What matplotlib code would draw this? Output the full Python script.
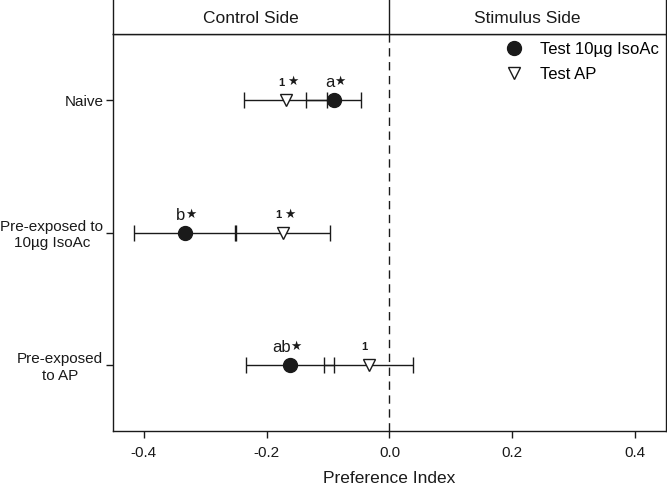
import matplotlib
matplotlib.use("Agg")
import matplotlib.pyplot as plt
import numpy as np

plt.rcParams['font.family'] = ['Liberation Sans', 'DejaVu Sans']

# groups, top to bottom
groups = ['Naive', 'Pre-exposed to\n10\u00b5g IsoAc', 'Pre-exposed\nto AP']
# Test 10ug IsoAc (filled circle)
iso_mean = [-0.091, -0.333, -0.162]
iso_err = [0.045, 0.082, 0.072]
iso_lab = ['a', 'b', 'ab']
iso_star = [True, True, True]
# Test AP (open triangle)
ap_mean = [-0.169, -0.173, -0.034]
ap_err = [0.068, 0.076, 0.073]
ap_lab = ['1', '1', '1']
ap_star = [True, True, False]

ink = '#1a1a1a'

fig = plt.figure(figsize=(6.67, 4.88), dpi=100)
ax = fig.add_axes([0.1694, 0.1168, 0.8291, 0.8135])
hd = fig.add_axes([0.1694, 0.9303, 0.8291, 0.0739])

y = np.arange(1, len(groups) + 1)

ax.errorbar(ap_mean, y, xerr=ap_err, fmt='none', ecolor=ink,
            elinewidth=1, capsize=5.5, capthick=1, zorder=2)
ax.errorbar(iso_mean, y, xerr=iso_err, fmt='none', ecolor=ink,
            elinewidth=1, capsize=5.5, capthick=1, zorder=2)
ax.plot(iso_mean, y, 'o', color=ink, markersize=10, zorder=4,
        label='Test 10\u00b5g IsoAc')
ax.plot(ap_mean, y, 'v', markerfacecolor='white', markeredgecolor=ink,
        markeredgewidth=1, markersize=9, zorder=3, label='Test AP')

for i in range(len(groups)):
    ax.annotate(iso_lab[i], (iso_mean[i], y[i]), xytext=(0.5, 7),
                textcoords='offset points', ha='right', va='bottom',
                fontsize=12, color=ink)
    if iso_star[i]:
        ax.annotate('\u2605', (iso_mean[i], y[i]), xytext=(0.5, 8.5),
                    textcoords='offset points', ha='left', va='bottom',
                    fontsize=9, color=ink, family='DejaVu Sans')
    ax.annotate(ap_lab[i], (ap_mean[i], y[i]), xytext=(-1, 9),
                textcoords='offset points', ha='right', va='bottom',
                fontsize=8, fontweight='bold', color=ink)
    if ap_star[i]:
        ax.annotate('\u2605', (ap_mean[i], y[i]), xytext=(1, 8.5),
                    textcoords='offset points', ha='left', va='bottom',
                    fontsize=9, color=ink, family='DejaVu Sans')

ax.axvline(0, color=ink, linestyle=(0, (6, 4)), linewidth=1, zorder=1)

ax.set_xlim(-0.45, 0.45)
ax.set_ylim(3.5, 0.5)
ax.set_xticks([-0.4, -0.2, 0.0, 0.2, 0.4])
ax.set_xticklabels(['-0.4', '-0.2', '0.0', '0.2', '0.4'])
ax.set_yticks(y)
ax.set_yticklabels(groups, multialignment='center')
ax.tick_params(axis='x', direction='out', length=5, width=1,
               labelsize=11, colors=ink, pad=6)
ax.tick_params(axis='y', direction='out', length=5, width=1,
               labelsize=11, colors=ink, pad=2)
ax.set_xlabel('Preference Index', fontsize=12.5, color=ink, labelpad=8)
for s in ax.spines.values():
    s.set_linewidth(1)
    s.set_color(ink)

ax.legend(loc='upper right', frameon=False, fontsize=12,
          handletextpad=0.6, borderaxespad=0.0, labelspacing=0.6,
          bbox_to_anchor=(1.0, 0.997))

# header strip with side labels
hd.set_xlim(-0.45, 0.45)
hd.set_ylim(0, 1)
hd.set_xticks([])
hd.set_yticks([])
hd.axvline(0, color=ink, linewidth=1)
hd.text(-0.225, 0.42, 'Control Side', ha='center', va='center',
        fontsize=12.5, color=ink)
hd.text(0.225, 0.42, 'Stimulus Side', ha='center', va='center',
        fontsize=12.5, color=ink)
for s in hd.spines.values():
    s.set_linewidth(1)
    s.set_color(ink)

fig.savefig('out.png', dpi=100)
